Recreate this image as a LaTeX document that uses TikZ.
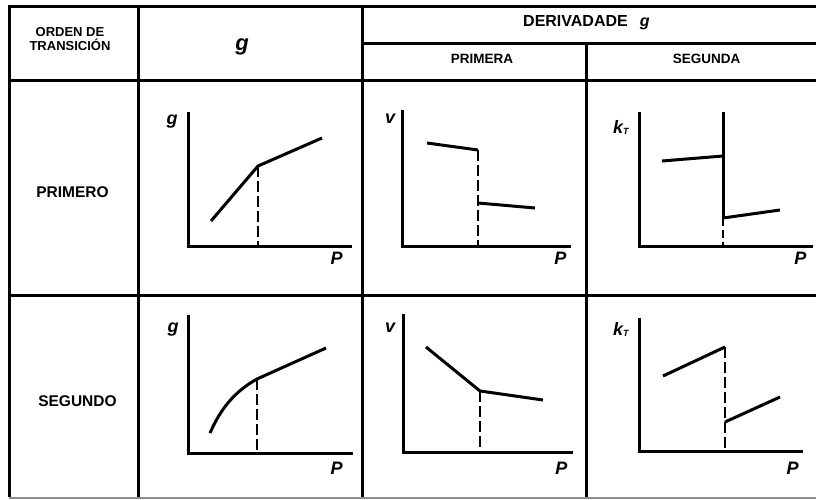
\documentclass[tikz,border=0pt]{standalone}
\usepackage{fontspec}
\setmainfont{Liberation Sans}
\begin{document}
\begin{tikzpicture}[x=1pt,y=-1pt,
  tbl/.style={line width=3pt},
  ax/.style={line width=3pt},
  crv/.style={line width=3pt, line join=round},
  dsh/.style={line width=2.7pt, dash pattern=on 11pt off 4pt},
  hd/.style={font=\bfseries\fontsize{13}{14.5}\selectfont, align=center, inner sep=0},
  sub/.style={font=\bfseries\fontsize{13.5}{15}\selectfont, inner sep=0, anchor=base},
  rowlab/.style={font=\bfseries\fontsize{15.5}{17}\selectfont, inner sep=0, anchor=base},
  axl/.style={font=\bfseries\itshape\fontsize{18}{18}\selectfont, inner sep=0},
  axp/.style={font=\bfseries\itshape\fontsize{18}{18}\selectfont, inner sep=0}]
\useasboundingbox (0,0) rectangle (816,499);
\fill[white] (0,0) rectangle (816,499);
% table grid
\draw[tbl] (816,6) -- (9,6) -- (9,497);
\draw[tbl] (138,6) -- (138,497);
\draw[tbl] (362,6) -- (362,497);
\draw[tbl] (586,43) -- (586,497);
\draw[tbl] (362,43) -- (816,43);
\draw[tbl] (9,80) -- (816,80);
\draw[tbl] (9,295) -- (816,295);
\draw[line width=1.4pt, black!45] (9,497.8) -- (816,497.8);
% headers
\node[hd] (orden) at (70,39) {ORDEN DE\\TRANSICIÓN};
\node[font=\bfseries\itshape\fontsize{22}{22}\selectfont, inner sep=0, anchor=base] (ghead) at (242,50.5) {g};
\node[font=\bfseries\fontsize{16}{17}\selectfont, inner sep=0, anchor=base west] (deriv) at (523,26.5) {DERIVADADE\hspace{12pt}{\itshape g}};
\node[sub] (primera) at (482,63.3) {PRIMERA};
\node[sub] (segunda) at (706.5,63.3) {SEGUNDA};
\node[rowlab] (primero) at (72.5,197.5) {PRIMERO};
\node[rowlab] (segundo) at (77.5,406) {SEGUNDO};
% ---------- plot 1 : g, first order
\draw[ax] (188,112) -- (188,246) -- (352,246);
\draw[crv] (211,221) -- (258,166) -- (322,138);
\draw[dsh] (258,166) -- (258,246);
\node[axl] (g1) at (172,121.7) {g};
\node[axp] (p1) at (336.7,258.3) {P};
% ---------- plot 2 : v, first order
\draw[ax] (402,110) -- (402,246) -- (571,246);
\draw[crv] (427,143) -- (478,150);
\draw[dsh] (478,150) -- (478,246);
\draw[crv] (478,203) -- (535,208);
\node[axl] (v1) at (390,119) {v};
\node[axp] (p2) at (560.3,258.8) {P};
% ---------- plot 3 : kT, first order
\draw[ax] (639,112) -- (639,246) -- (813,246);
\draw[crv] (662,161) -- (723,156);
\draw[ax] (723,112) -- (723,218);
\draw[line width=2.7pt, dash pattern=on 8pt off 4pt] (723,218) -- (723,246);
\draw[crv] (723,218) -- (780,210);
\node[axl, anchor=base west] (k1) at (613,133.3) {k\raisebox{-1pt}{\fontsize{9}{9}\selectfont T}};
\node[axp] (p3) at (800.3,258.8) {P};
% ---------- plot 4 : g, second order
\draw[ax] (188,315) -- (188,453) -- (353,453);
\draw[crv] (210,433) .. controls (218,415) and (230,394) .. (257,379) -- (326,348);
\draw[dsh] (257,379) -- (257,453);
\node[axl] (g2) at (173,329.7) {g};
\node[axp] (p4) at (336.7,468.3) {P};
% ---------- plot 5 : v, second order
\draw[ax] (403,314) -- (403,452) -- (573,452);
\draw[crv] (426,347) -- (480,391) -- (543,400);
\draw[dsh] (480,391) -- (480,452);
\node[axl] (v2) at (390,327.8) {v};
\node[axp] (p5) at (561.3,467.8) {P};
% ---------- plot 6 : kT, second order
\draw[ax] (639,318) -- (639,451) -- (803,451);
\draw[crv] (663,376) -- (725,347);
\draw[dsh] (725,347) -- (725,451);
\draw[crv] (725,422) -- (780,397);
\node[axl, anchor=base west] (k2) at (613,335.7) {k\raisebox{-1pt}{\fontsize{9}{9}\selectfont T}};
\node[axp] (p6) at (792.5,467.8) {P};
\end{tikzpicture}
\end{document}
